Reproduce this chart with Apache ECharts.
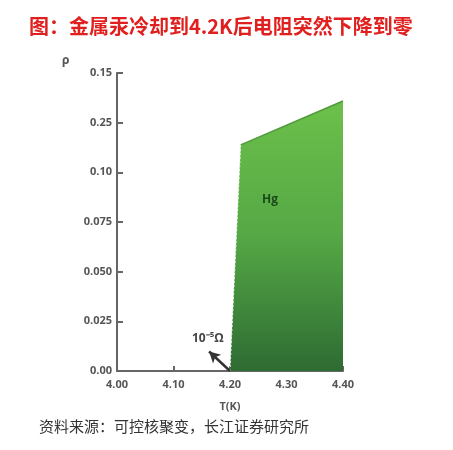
<!DOCTYPE html>
<html><head><meta charset="utf-8">
<script src="https://cdn.jsdelivr.net/npm/echarts@6/dist/echarts.min.js"></script>
<style>html,body{margin:0;padding:0;background:#fff}#c{width:453px;height:450px}</style>
</head><body><div id="c"></div>
<script>
// Data
const temperatures = [4.20, 4.219, 4.40];          // T(K)
const resistivity = [0, 0.1138, 0.1359];            // rho
const xTickLabels = ['4.00', '4.10', '4.20', '4.30', '4.40'];
const yTickLabels = ['0.00', '0.025', '0.050', '0.075', '0.10', '0.25', '0.15'];
const arrowFrom = [4.20, 0];
const arrowTo = [4.163, 0.0098];

const pts = temperatures.map((t, i) => [t, resistivity[i]]);
const chart = echarts.init(document.getElementById('c'));
const labelFont = {fontFamily: 'Open Sans', fontWeight: 'bold', fontSize: 11, color: '#555'};
chart.setOption({
  animation: false,
  grid: {left: 117, right: 110, top: 73, bottom: 79},
  xAxis: {
    type: 'value', min: 4.0, max: 4.4, interval: 0.1,
    name: 'T(K)', nameLocation: 'middle', nameGap: 30,
    nameTextStyle: labelFont,
    axisLine: {lineStyle: {color: '#666', width: 2}},
    axisTick: {inside: true, length: 5, lineStyle: {color: '#666', width: 2}},
    axisLabel: Object.assign({margin: 8, formatter: (v) => xTickLabels[Math.round((v - 4.0) / 0.1)]}, labelFont),
    splitLine: {show: false}
  },
  yAxis: {
    type: 'value', min: 0, max: 0.15, interval: 0.025,
    axisLine: {show: true, lineStyle: {color: '#666', width: 2}},
    axisTick: {show: true, inside: true, length: 6, lineStyle: {color: '#666', width: 2}},
    axisLabel: Object.assign({margin: 5, formatter: (v) => yTickLabels[Math.round(v / 0.025)]}, labelFont),
    splitLine: {show: false}
  },
  graphic: [
    {type: 'text', z: 100, left: 29, top: 16, style: {text: '图：金属汞冷却到4.2K后电阻突然下降到零', fill: '#e0201e', font: 'bold 20px "Noto Sans CJK SC"'}},
    {type: 'text', z: 100, left: 62, top: 55, style: {text: 'ρ', fill: '#555', font: 'bold 12px "Open Sans"'}},
    {type: 'text', z: 100, left: 262, top: 194, style: {text: 'Hg', fill: '#1a4a1a', font: 'bold 12px "Open Sans"'}},
    {type: 'text', z: 100, left: 192, top: 333, style: {text: '10⁻⁵Ω', fill: '#444', font: 'bold 12px "Open Sans"'}},
    {type: 'text', z: 100, left: 39, top: 419, style: {text: '资料来源：可控核聚变，长江证券研究所', fill: '#333', font: '15px "Noto Sans CJK SC"'}}
  ],
  series: [
    {
      type: 'line', data: pts, symbol: 'none', z: 2,
      lineStyle: {width: 0},
      areaStyle: {opacity: 1, color: new echarts.graphic.LinearGradient(0, 0, 0, 1, [
        {offset: 0, color: '#6cc04a'}, {offset: 0.5, color: '#55a845'}, {offset: 1, color: '#2e6b33'}])}
    },
    {
      type: 'line', data: pts.slice(1), symbol: 'none', z: 3,
      lineStyle: {color: '#4f9a3c', width: 1.5}
    },
    {
      type: 'line', data: pts.slice(0, 2), symbol: 'none', z: 3,
      lineStyle: {color: '#e8f2e4', width: 1, type: [2, 2]},
      markLine: {
        silent: true, symbol: ['none', 'arrow'], symbolSize: [9, 11],
        label: {show: false},
        lineStyle: {color: '#333', width: 2.5, type: 'solid'},
        data: [[{coord: arrowFrom}, {coord: arrowTo}]]
      }
    }
  ]
});
</script></body></html>
